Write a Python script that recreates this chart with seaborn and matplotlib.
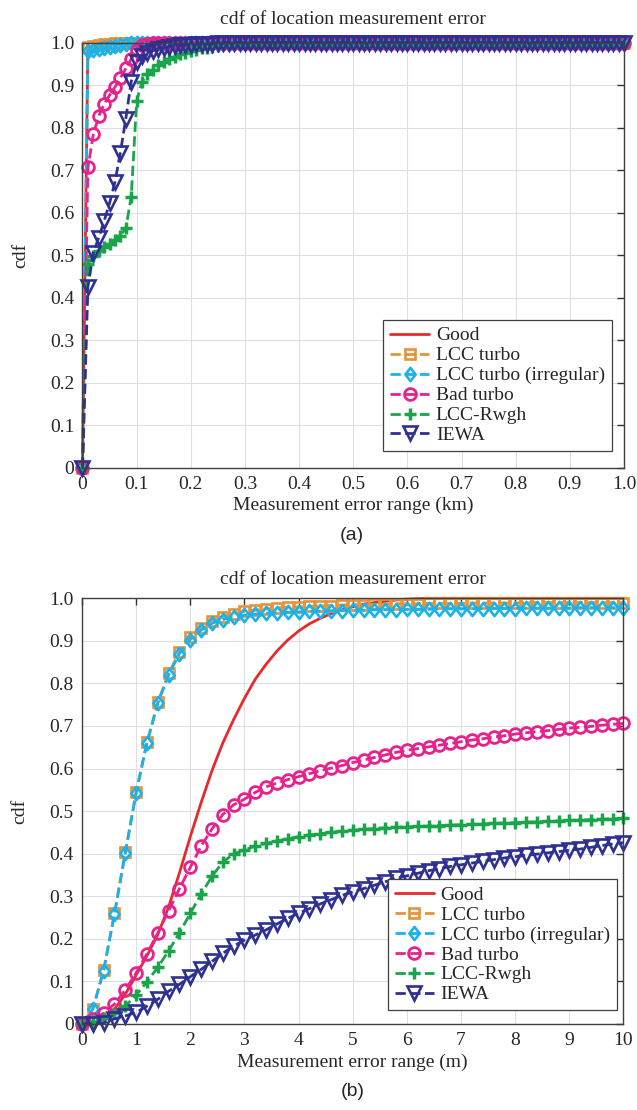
import numpy as np
import pandas as pd
import matplotlib
matplotlib.use('Agg')
import matplotlib.pyplot as plt
import seaborn as sns
from matplotlib.path import Path

# ---------------- data ----------------
series_names = ['Good', 'LCC turbo', 'LCC turbo (irregular)', 'Bad turbo', 'LCC-Rwgh', 'IEWA']

# (a) x in km, step 0.01
x_a = np.round(np.linspace(0.0, 1.0, 101), 2)
ones10 = [1.0, 1.0, 1.0, 1.0, 1.0, 1.0, 1.0, 1.0, 1.0, 1.0]

good_a = ([0.0] + ones10 + ones10 + ones10 + ones10 + ones10
          + ones10 + ones10 + ones10 + ones10 + ones10)
lcc_a = ([0.0,
          0.990, 0.992, 0.994, 0.996, 0.997, 0.998, 0.999, 1.0, 1.0, 1.0]
         + ones10 + ones10 + ones10 + ones10 + ones10 + ones10 + ones10 + ones10 + ones10)
lcci_a = ([0.0,
           0.980, 0.982, 0.984, 0.986, 0.989, 0.992, 0.995, 0.997, 0.998, 0.999]
          + ones10 + ones10 + ones10 + ones10 + ones10 + ones10 + ones10 + ones10 + ones10)
bad_a = ([0.0,
          0.706, 0.784, 0.827, 0.855, 0.876, 0.895, 0.917, 0.939, 0.961, 0.982,
          0.993, 0.997, 0.999, 1.0, 1.0, 1.0, 1.0, 1.0, 1.0, 1.0]
         + ones10 + ones10 + ones10 + ones10 + ones10 + ones10 + ones10 + ones10)
rwgh_a = ([0.0,
           0.478, 0.497, 0.510, 0.518, 0.526, 0.535, 0.545, 0.563, 0.637, 0.862,
           0.908, 0.925, 0.936, 0.946, 0.954, 0.961, 0.967, 0.972, 0.976, 0.980,
           0.983, 0.986, 0.988, 0.990, 0.992, 0.994, 0.995, 0.996, 0.997, 0.998,
           0.999, 0.999, 1.0, 1.0, 1.0, 1.0, 1.0, 1.0, 1.0, 1.0]
          + ones10 + ones10 + ones10 + ones10 + ones10 + ones10)
iewa_a = ([0.0,
           0.425, 0.505, 0.541, 0.580, 0.622, 0.672, 0.741, 0.821, 0.908, 0.953,
           0.968, 0.976, 0.981, 0.985, 0.988, 0.990, 0.992, 0.993, 0.994, 0.995,
           0.996, 0.996, 0.997, 0.997, 0.998, 0.998, 0.999, 0.999, 0.999, 1.0]
          + ones10 + ones10 + ones10 + ones10 + ones10 + ones10 + ones10)

# (b) x in m, step 0.2
x_b = np.round(np.linspace(0.0, 10.0, 51), 1)
good_b = [0.0, 0.002, 0.012, 0.035, 0.07, 0.115, 0.16, 0.21, 0.275, 0.355,
          0.44, 0.52, 0.595, 0.66, 0.715, 0.765, 0.81, 0.845, 0.876, 0.902,
          0.923, 0.94, 0.953, 0.964, 0.973, 0.98, 0.986, 0.99, 0.993, 0.996,
          0.998, 0.999, 1.0, 1.0, 1.0, 1.0, 1.0, 1.0, 1.0, 1.0,
          1.0, 1.0, 1.0, 1.0, 1.0, 1.0, 1.0, 1.0, 1.0, 1.0, 1.0]
lcc_b = [0.0, 0.035, 0.127, 0.26, 0.403, 0.545, 0.662, 0.756, 0.824, 0.874,
         0.908, 0.931, 0.947, 0.957, 0.964, 0.969, 0.972, 0.975, 0.977, 0.979,
         0.98, 0.981, 0.982, 0.983, 0.984, 0.985, 0.985, 0.986, 0.986, 0.987,
         0.987, 0.987, 0.988, 0.988, 0.988, 0.988, 0.989, 0.989, 0.989, 0.989,
         0.989, 0.99, 0.99, 0.99, 0.99, 0.99, 0.99, 0.99, 0.99, 0.99, 0.99]
lcci_b = [0.0, 0.035, 0.125, 0.258, 0.402, 0.543, 0.66, 0.753, 0.82, 0.87,
          0.903, 0.925, 0.941, 0.95, 0.956, 0.96, 0.963, 0.965, 0.966, 0.967,
          0.968, 0.969, 0.97, 0.971, 0.971, 0.972, 0.972, 0.973, 0.973, 0.973,
          0.974, 0.974, 0.974, 0.975, 0.975, 0.975, 0.975, 0.976, 0.976, 0.976,
          0.976, 0.977, 0.977, 0.977, 0.977, 0.977, 0.978, 0.978, 0.978, 0.978, 0.978]
bad_b = [0.0, 0.012, 0.025, 0.047, 0.08, 0.12, 0.165, 0.214, 0.266, 0.318,
         0.368, 0.418, 0.458, 0.492, 0.515, 0.528, 0.544, 0.557, 0.566, 0.574,
         0.581, 0.588, 0.595, 0.601, 0.607, 0.614, 0.62, 0.626, 0.632, 0.638,
         0.643, 0.647, 0.651, 0.655, 0.659, 0.663, 0.667, 0.67, 0.674, 0.677,
         0.681, 0.684, 0.687, 0.689, 0.692, 0.695, 0.697, 0.699, 0.702, 0.704, 0.706]
rwgh_b = [0.0, 0.005, 0.014, 0.026, 0.042, 0.068, 0.099, 0.133, 0.172, 0.214,
          0.26, 0.305, 0.347, 0.38, 0.40, 0.409, 0.418, 0.424, 0.43, 0.435,
          0.44, 0.444, 0.447, 0.45, 0.453, 0.455, 0.457, 0.459, 0.461, 0.462,
          0.463, 0.464, 0.465, 0.466, 0.467, 0.468, 0.469, 0.47, 0.471, 0.472,
          0.473, 0.474, 0.475, 0.476, 0.477, 0.478, 0.479, 0.48, 0.481, 0.482, 0.483]
iewa_b = [0.0, 0.0, 0.003, 0.012, 0.019, 0.027, 0.042, 0.058, 0.077, 0.093,
          0.111, 0.128, 0.147, 0.166, 0.183, 0.197, 0.209, 0.221, 0.235, 0.248,
          0.26, 0.271, 0.282, 0.292, 0.302, 0.31, 0.318, 0.326, 0.334, 0.342,
          0.348, 0.354, 0.36, 0.365, 0.37, 0.374, 0.378, 0.382, 0.386, 0.39,
          0.393, 0.396, 0.399, 0.402, 0.405, 0.408, 0.411, 0.415, 0.419, 0.423, 0.426]

y_ticks = [0, 0.1, 0.2, 0.3, 0.4, 0.5, 0.6, 0.7, 0.8, 0.9, 1.0]
y_ticklabels = ['0', '0.1', '0.2', '0.3', '0.4', '0.5', '0.6', '0.7', '0.8', '0.9', '1.0']
xa_ticks = [0, 0.1, 0.2, 0.3, 0.4, 0.5, 0.6, 0.7, 0.8, 0.9, 1.0]
xa_ticklabels = ['0', '0.1', '0.2', '0.3', '0.4', '0.5', '0.6', '0.7', '0.8', '0.9', '1.0']
xb_ticks = [0, 1, 2, 3, 4, 5, 6, 7, 8, 9, 10]
xb_ticklabels = ['0', '1', '2', '3', '4', '5', '6', '7', '8', '9', '10']

title_text = 'cdf of location measurement error'
ylabel_text = 'cdf'
xlabel_a = 'Measurement error range (km)'
xlabel_b = 'Measurement error range (m)'

# ---------------- style ----------------
sns.set_theme(style='whitegrid')
plt.rcParams['font.family'] = ['Liberation Serif', 'DejaVu Serif']
TXT = '#262626'

colors = ['#e8292c', '#e4933a', '#1ab2ea', '#e8228c', '#1aa54b', '#2e3192']
diamond = Path([(0, 1), (0.78, 0), (0, -1), (-0.78, 0), (0, 1)],
               [Path.MOVETO, Path.LINETO, Path.LINETO, Path.LINETO, Path.CLOSEPOLY])
markers = [None, 's', diamond, 'o', '+', 'v']
msizes = [0, 6.5, 9.5, 8.5, 8.5, 9.5]
mews = [0, 1.9, 1.9, 2.0, 2.5, 1.9]
lstyles = ['-', '--', '--', '--', '--', '--']

fig = plt.figure(figsize=(6.37, 11.10), dpi=100)
ax_a = fig.add_axes([0.1295, 0.5788, 0.8501, 0.3829])
ax_b = fig.add_axes([0.1287, 0.0775, 0.8501, 0.3835])


def draw(ax, x, ys):
    for name, y, c, m, ms, mew, ls in zip(series_names, ys, colors, markers, msizes, mews, lstyles):
        df = pd.DataFrame({'x': x, 'y': y})
        kw = dict(color=c, linestyle=ls, linewidth=2.0, label=name, clip_on=False,
                  sort=False, estimator=None)
        if m is not None:
            kw.update(marker=m, markersize=ms, markeredgewidth=mew,
                      markeredgecolor=c, markerfacecolor='none')
        sns.lineplot(data=df, x='x', y='y', ax=ax, **kw)


draw(ax_a, x_a, [good_a, lcc_a, lcci_a, bad_a, rwgh_a, iewa_a])
draw(ax_b, x_b, [good_b, lcc_b, lcci_b, bad_b, rwgh_b, iewa_b])


def style(ax, xt, xtl, xlabel, xmax, title_pad, leg_anchor):
    ax.set_xlim(0, xmax)
    ax.set_ylim(0, 1.0)
    ax.set_xticks(xt)
    ax.set_xticklabels(xtl)
    ax.set_yticks(y_ticks)
    ax.set_yticklabels(y_ticklabels)
    ax.set_facecolor('white')
    ax.grid(True, color='#dedee6', linewidth=0.8)
    ax.set_axisbelow(True)
    for s in ax.spines.values():
        s.set_visible(True)
        s.set_color('#404040')
        s.set_linewidth(1.0)
    ax.tick_params(direction='in', length=5, width=1.0, top=True, right=True,
                   labeltop=False, labelright=False, colors='#333333',
                   labelcolor=TXT, labelsize=14, pad=6)
    ax.set_title(title_text, fontsize=14, color=TXT, pad=title_pad)
    ax.set_xlabel(xlabel, fontsize=14, color=TXT, labelpad=3)
    ax.set_ylabel(ylabel_text, fontsize=14, color=TXT, labelpad=15)
    leg = ax.legend(loc='upper right', bbox_to_anchor=leg_anchor, bbox_transform=ax.transAxes,
                    borderaxespad=0, fontsize=14, frameon=True, fancybox=False, framealpha=1,
                    edgecolor='#404040', borderpad=0.35, labelspacing=0.12,
                    handlelength=2.0, handletextpad=0.35)
    leg.get_frame().set_linewidth(0.9)
    for t in leg.get_texts():
        t.set_color(TXT)


style(ax_a, xa_ticks, xa_ticklabels, xlabel_a, 1.0, 13, (0.9773, 0.347))
style(ax_b, xb_ticks, xb_ticklabels, xlabel_b, 10.0, 10, (0.9874, 0.340))

fig.text(0.553, 1 - 535 / 1110, '(a)', ha='center', va='center',
         family=['Liberation Sans', 'DejaVu Sans'], fontsize=14, color=TXT)
fig.text(0.553, 1 - 1092 / 1110, '(b)', ha='center', va='center',
         family=['Liberation Sans', 'DejaVu Sans'], fontsize=14, color=TXT)

fig.savefig('out.png', dpi=100, facecolor='white')
